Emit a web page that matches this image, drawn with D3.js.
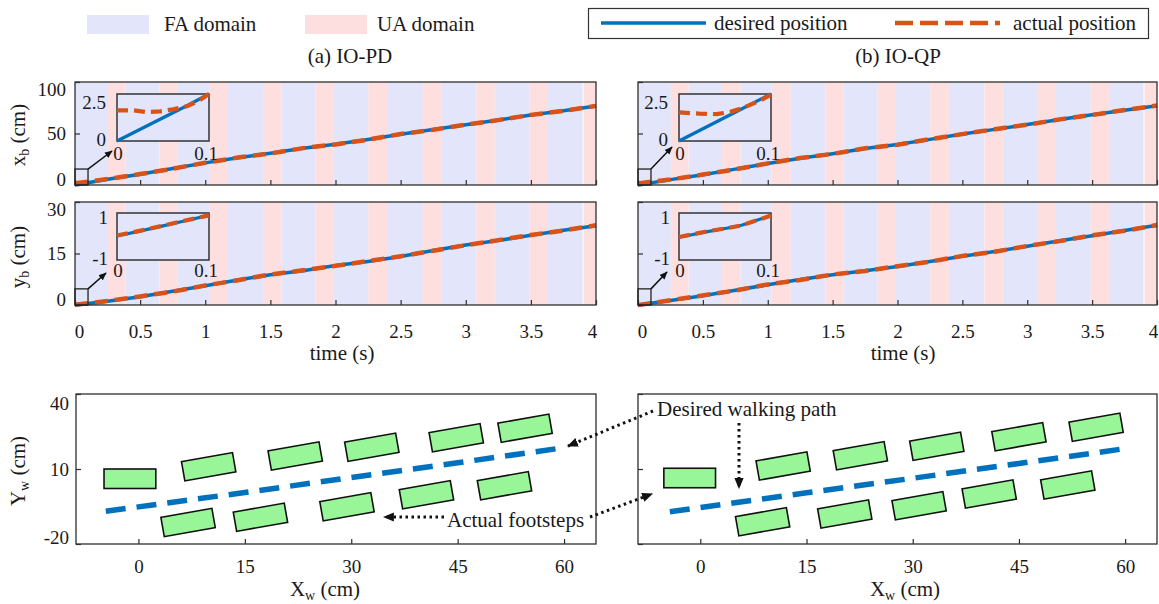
<!DOCTYPE html>
<html>
<head>
<meta charset="utf-8">
<script src="https://cdn.jsdelivr.net/npm/d3@7/dist/d3.min.js"></script>
<style>
html,body{margin:0;padding:0;background:#fff;}
svg{display:block;}
</style>
</head>
<body>
<svg id="chart" width="1159" height="604"></svg>
<script>
// ---------------- data ----------------
const timeTicks = [0, 0.5, 1, 1.5, 2, 2.5, 3, 3.5, 4];
const timeTickLabels = ["0", "0.5", "1", "1.5", "2", "2.5", "3", "3.5", "4"];
const xbTicks = [0, 50, 100];
const xbTickLabels = ["0", "50", "100"];
const ybTicks = [0, 15, 30];
const ybTickLabels = ["0", "15", "30"];

const faDomains = [[0, 0.253], [0.389, 0.648], [0.789, 1.03], [1.175, 1.444], [1.585, 1.848],
  [1.988, 2.252], [2.396, 2.67], [2.812, 3.082], [3.222, 3.488], [3.631, 3.896]];
const uaDomains = [[0.253, 0.389], [0.648, 0.789], [1.03, 1.175], [1.444, 1.585], [1.848, 1.988],
  [2.252, 2.396], [2.67, 2.812], [3.082, 3.222], [3.488, 3.631], [3.904, 4]];

const timeSamples = [0, 0.25, 0.5, 0.75, 1, 1.25, 1.5, 1.75, 2, 2.25, 2.5, 2.75, 3, 3.25, 3.5, 3.75, 4];
const xbDesiredPD = [0, 5.6, 10.5, 16.0, 21.5, 26.4, 30.8, 35.6, 39.6, 44.2, 49.3, 53.8, 58.4, 63.2, 67.9, 72.1, 76.7];
const xbActualPD  = [1.6, 5.8, 10.6, 15.8, 21.6, 26.6, 30.6, 35.8, 39.4, 44.0, 49.5, 53.6, 58.6, 63.0, 68.1, 72.0, 76.8];
const xbDesiredQP = [0, 5.2, 9.9, 15.4, 20.9, 26.0, 30.4, 35.4, 39.3, 44.3, 49.6, 54.0, 58.7, 63.5, 68.2, 72.6, 77.0];
const xbActualQP  = [1.5, 5.4, 10.1, 15.2, 21.0, 26.2, 30.2, 35.6, 39.1, 44.5, 49.4, 54.2, 58.5, 63.7, 68.0, 72.8, 77.1];
const ybDesiredPD = [0, 1.1, 2.4, 4.0, 5.6, 7.3, 8.8, 10.0, 11.5, 12.7, 14.1, 15.9, 17.5, 18.8, 20.3, 21.8, 23.1];
const ybActualPD  = [0.05, 1.2, 2.5, 3.9, 5.7, 7.2, 8.9, 10.1, 11.4, 12.8, 14.2, 15.8, 17.4, 18.9, 20.4, 21.7, 23.2];
const ybDesiredQP = [0, 1.3, 2.7, 4.3, 5.9, 7.4, 8.8, 10.0, 11.2, 12.7, 14.2, 15.6, 17.1, 18.7, 20.2, 21.7, 23.2];
const ybActualQP  = [-0.03, 1.4, 2.8, 4.2, 6.0, 7.3, 8.9, 9.9, 11.3, 12.6, 14.3, 15.5, 17.2, 18.6, 20.3, 21.6, 23.3];

// insets (zoom of first 0.1 s)
const insetTicksT = [0, 0.1];
const insetTickLabelsT = ["0", "0.1"];
const xbInsetTicks = [0, 2.5];
const xbInsetTickLabels = ["0", "2.5"];
const ybInsetTicks = [-1, 1];
const ybInsetTickLabels = ["-1", "1"];
const xbInsetDesT = [0, 0.077, 0.1];
const xbInsetDesPD = [0, 1.9, 2.5];
const xbInsetDesQP = [0, 1.93, 2.5];
const xbInsetActT_PD = [0, 0.018, 0.032, 0.047, 0.061, 0.076, 0.087, 0.1];
const xbInsetActPD = [1.63, 1.63, 1.54, 1.58, 1.68, 1.85, 2.08, 2.5];
const xbInsetActT_QP = [0, 0.022, 0.041, 0.056, 0.071, 0.086, 0.1];
const xbInsetActQP = [1.52, 1.46, 1.43, 1.55, 1.79, 2.1, 2.46];
const ybInsetT_PD = [0, 0.027, 0.05, 0.073, 0.1];
const ybInsetDesPD = [0.02, 0.25, 0.45, 0.66, 0.9];
const ybInsetActPD = [0.04, 0.26, 0.46, 0.67, 0.9];
const ybInsetT_QP = [0, 0.031, 0.053, 0.068, 0.1];
const ybInsetDesQP = [-0.03, 0.21, 0.36, 0.48, 0.89];
const ybInsetActQP = [-0.02, 0.22, 0.36, 0.47, 0.89];

// footstep panels
const XwTicks = [0, 15, 30, 45, 60];
const XwTickLabels = ["0", "15", "30", "45", "60"];
const YwTicks = [-20, 10, 40];
const YwTickLabels = ["-20", "10", "40"];
const footX_PD = [-1.2, 9.9, 22.1, 32.9, 44.8, 54.5, 7.0, 17.2, 29.4, 40.6, 51.6];
const footY_PD = [6.1, 10.9, 15.2, 18.7, 22.5, 26.3, -11.4, -9.3, -5.1, -0.3, 3.3];
const footHeading_PD = [0, 10, 10, 10, 10, 10, 10, 10, 10, 10, 10];
const footX_QP = [-1.5, 11.7, 22.6, 33.4, 45.0, 55.9, 8.8, 20.4, 30.9, 40.8, 51.9];
const footY_QP = [6.4, 11.2, 15.3, 19.1, 22.9, 26.7, -11.1, -8.0, -4.7, 0.0, 3.6];
const footHeading_QP = [0, 10, 10, 10, 10, 10, 10, 10, 10, 10, 10];
const pathX_PD = [-4.6, 15, 30, 45, 59.4];
const pathY_PD = [-6.9, 0.6, 6.6, 12.5, 18.3];
const pathX_QP = [-4.3, 15, 30, 45, 59.6];
const pathY_QP = [-7.1, 0.5, 6.3, 12.2, 18.0];

// ---------------- style ----------------
const FA_COLOR = "#e3e6fa", UA_COLOR = "#fddfe0", BLUE = "#0072bd", ORANGE = "#d95319";
const AXC = "#2e2e2e", TXT = "#1a1a1a", FOOT_FILL = "#98f598";
const FONT = "'Liberation Serif', 'Times New Roman', Times, serif";
const FOOT_LEN = 7.3, FOOT_WID = 7.8; // cm

const svg = d3.select("#chart");
svg.append("rect").attr("width", 1159).attr("height", 604).attr("fill", "#fff");
const defs = svg.append("defs");
function addMarker(id, size) {
  defs.append("marker").attr("id", id).attr("viewBox", "0 0 10 10")
    .attr("refX", 9).attr("refY", 5).attr("markerWidth", size).attr("markerHeight", size)
    .attr("markerUnits", "userSpaceOnUse").attr("orient", "auto")
    .append("path").attr("d", "M0,0.8 L10,5 L0,9.2 Z").attr("fill", "#111");
}
addMarker("headSmall", 8);
addMarker("headBig", 11);

function styleAxis(ga) {
  ga.select(".domain").remove();
  ga.attr("font-family", FONT).attr("font-size", 19);
  ga.selectAll(".tick line").attr("stroke", AXC).attr("stroke-width", 1.2);
  ga.selectAll(".tick text").attr("fill", TXT);
}

function label(text, sub, rest, x, y, rotate) {
  const t = svg.append("text").attr("font-family", FONT).attr("font-size", 21).attr("fill", TXT)
    .attr("text-anchor", "middle")
    .attr("transform", rotate ? `translate(${x},${y}) rotate(-90)` : `translate(${x},${y})`);
  t.append("tspan").text(text);
  if (sub) t.append("tspan").attr("font-size", 14).attr("dy", 4).text(sub);
  if (rest) t.append("tspan").attr("dy", sub ? -4 : 0).text(rest);
  return t;
}

function drawTimePanel(cfg) {
  const g = svg.append("g");
  const x = d3.scaleLinear().domain([0, 4]).range([cfg.left, cfg.right]);
  const y = d3.scaleLinear().domain(cfg.yDomain).range([cfg.bottom, cfg.top]);
  const h = cfg.bottom - cfg.top;
  g.append("g").selectAll("rect").data(faDomains).join("rect")
    .attr("x", d => x(d[0])).attr("width", d => x(d[1]) - x(d[0]))
    .attr("y", cfg.top).attr("height", h).attr("fill", FA_COLOR);
  g.append("g").selectAll("rect").data(uaDomains).join("rect")
    .attr("x", d => x(d[0])).attr("width", d => x(d[1]) - x(d[0]))
    .attr("y", cfg.top).attr("height", h).attr("fill", UA_COLOR);
  const line = d3.line().x(d => x(d[0])).y(d => y(d[1]));
  g.append("path").attr("d", line(d3.zip(timeSamples, cfg.des)))
    .attr("fill", "none").attr("stroke", BLUE).attr("stroke-width", 3.5);
  g.append("path").attr("d", line(d3.zip(timeSamples, cfg.act)))
    .attr("fill", "none").attr("stroke", ORANGE).attr("stroke-width", 4.5).attr("stroke-dasharray", "13,7");

  const bAxis = d3.axisBottom(x).tickValues(timeTicks).tickSizeInner(-5).tickSizeOuter(0).tickPadding(20)
    .tickFormat((d, i) => cfg.showX ? timeTickLabels[i] : "");
  const gb = g.append("g").attr("transform", `translate(0,${cfg.bottom})`).call(bAxis);
  styleAxis(gb);
  gb.selectAll(".tick text").attr("dx", d => d === timeTicks[0] ? 4 : (d === timeTicks[timeTicks.length - 1] ? -4 : 0));

  const lAxis = d3.axisLeft(y).tickValues(cfg.yTicks).tickSizeInner(-5).tickSizeOuter(0).tickPadding(9)
    .tickFormat((d, i) => cfg.showY ? cfg.yLabels[i] : "");
  const gl = g.append("g").attr("transform", `translate(${cfg.left},0)`).call(lAxis);
  styleAxis(gl);
  const yMin = cfg.yTicks[0], yMax = cfg.yTicks[cfg.yTicks.length - 1];
  gl.selectAll(".tick text").attr("y", d => d === yMax ? 7 : (d === yMin ? -6 : 0));

  g.append("rect").attr("x", cfg.left).attr("y", cfg.top).attr("width", cfg.right - cfg.left).attr("height", h)
    .attr("fill", "none").attr("stroke", AXC).attr("stroke-width", 1.3);

  // zoom marker + inset
  const ins = cfg.inset;
  g.append("rect").attr("x", x(0)).attr("y", y(ins.marker[1]))
    .attr("width", x(0.1) - x(0)).attr("height", y(ins.marker[0]) - y(ins.marker[1]))
    .attr("fill", "none").attr("stroke", "#222").attr("stroke-width", 1.3);
  const ix = d3.scaleLinear().domain([0, 0.1]).range([ins.x0, ins.x1]);
  const iy = d3.scaleLinear().domain(ins.yDomain).range([ins.y1, ins.y0]);
  g.append("line").attr("x1", x(0.1)).attr("y1", y(ins.marker[1]))
    .attr("x2", ins.x0 + ins.tip[0]).attr("y2", ins.y1 + ins.tip[1])
    .attr("stroke", "#111").attr("stroke-width", 1.5).attr("marker-end", "url(#headSmall)");
  g.append("rect").attr("x", ins.x0).attr("y", ins.y0).attr("width", ins.x1 - ins.x0).attr("height", ins.y1 - ins.y0)
    .attr("fill", FA_COLOR).attr("stroke", "#333").attr("stroke-width", 1.5);
  const iline = d3.line().x(d => ix(d[0])).y(d => iy(d[1]));
  g.append("path").attr("d", iline(d3.zip(ins.desT, ins.des))).attr("fill", "none")
    .attr("stroke", BLUE).attr("stroke-width", 3.2);
  g.append("path").attr("d", iline(d3.zip(ins.actT, ins.act))).attr("fill", "none")
    .attr("stroke", ORANGE).attr("stroke-width", 4.2).attr("stroke-dasharray", "11,6");
  const tg = g.append("g").attr("font-family", FONT).attr("font-size", 19).attr("fill", TXT);
  tg.selectAll("text.iy").data(ins.yTicks).join("text").attr("class", "iy")
    .attr("text-anchor", "end").attr("x", ins.x0 - ins.yLabelGap)
    .attr("y", (d, i) => iy(d) + ins.yLabelShift[i]).attr("dy", "0.35em")
    .text((d, i) => ins.yLabels[i]);
  tg.selectAll("text.ix").data(insetTicksT).join("text").attr("class", "ix")
    .attr("text-anchor", "middle").attr("x", (d, i) => ix(d) + [1, -3][i])
    .attr("y", ins.y1 + ins.xLabelGap).attr("dy", "0.35em")
    .text((d, i) => insetTickLabelsT[i]);
  return { x, y };
}

function drawFootPanel(cfg) {
  const g = svg.append("g");
  const x = d3.scaleLinear().domain([-8.8, 64.5]).range([cfg.left, cfg.right]);
  const y = d3.scaleLinear().domain([-20, 40]).range([cfg.bottom, cfg.top]);
  const bAxis = d3.axisBottom(x).tickValues(XwTicks).tickSizeInner(-5).tickSizeOuter(0).tickPadding(16)
    .tickFormat((d, i) => XwTickLabels[i]);
  const gb = g.append("g").attr("transform", `translate(0,${cfg.bottom})`).call(bAxis);
  styleAxis(gb);
  const lAxis = d3.axisLeft(y).tickValues(YwTicks).tickSizeInner(-5).tickSizeOuter(0).tickPadding(7)
    .tickFormat((d, i) => cfg.showY ? YwTickLabels[i] : "");
  const gl = g.append("g").attr("transform", `translate(${cfg.left},0)`).call(lAxis);
  styleAxis(gl);
  gl.selectAll(".tick text").attr("y", d => d === 40 ? 9 : (d === -20 ? -7 : 0));

  const line = d3.line().x(d => x(d[0])).y(d => y(d[1]));
  g.append("path").attr("d", line(d3.zip(cfg.pathX, cfg.pathY))).attr("fill", "none")
    .attr("stroke", BLUE).attr("stroke-width", 5.5).attr("stroke-dasharray", "20,11");
  const w = x(FOOT_LEN) - x(0), hh = y(0) - y(FOOT_WID);
  const feet = d3.range(cfg.footX.length).map(i => [cfg.footX[i], cfg.footY[i], cfg.heading[i]]);
  g.selectAll("rect.foot").data(feet).join("rect").attr("class", "foot")
    .attr("x", -w / 2).attr("y", -hh / 2).attr("width", w).attr("height", hh)
    .attr("transform", d => `translate(${x(d[0])},${y(d[1])}) rotate(${-d[2]})`)
    .attr("fill", FOOT_FILL).attr("stroke", "#111").attr("stroke-width", 1.6);
  g.append("rect").attr("x", cfg.left).attr("y", cfg.top).attr("width", cfg.right - cfg.left)
    .attr("height", cfg.bottom - cfg.top).attr("fill", "none").attr("stroke", AXC).attr("stroke-width", 1.3);
  return { x, y };
}

// ---------------- legend & titles ----------------
svg.append("rect").attr("x", 87).attr("y", 15).attr("width", 62).attr("height", 19).attr("fill", FA_COLOR);
svg.append("rect").attr("x", 305).attr("y", 15).attr("width", 62).attr("height", 19).attr("fill", UA_COLOR);
svg.append("rect").attr("x", 588.5).attr("y", 8.5).attr("width", 560).attr("height", 30)
  .attr("fill", "#fff").attr("stroke", "#333").attr("stroke-width", 1.2);
svg.append("line").attr("x1", 601).attr("x2", 706).attr("y1", 23).attr("y2", 23)
  .attr("stroke", BLUE).attr("stroke-width", 3.5);
svg.append("line").attr("x1", 895).attr("x2", 1000).attr("y1", 23).attr("y2", 23)
  .attr("stroke", ORANGE).attr("stroke-width", 4.5).attr("stroke-dasharray", "18,7");
const legTxt = svg.append("g").attr("font-family", FONT).attr("font-size", 21).attr("fill", TXT);
legTxt.append("text").attr("x", 164).attr("y", 31).text("FA domain");
legTxt.append("text").attr("x", 377).attr("y", 31).text("UA domain");
legTxt.append("text").attr("x", 714).attr("y", 30).text("desired position");
legTxt.append("text").attr("x", 1013).attr("y", 30).text("actual position");
legTxt.append("text").attr("x", 350).attr("y", 63).attr("text-anchor", "middle").text("(a) IO-PD");
legTxt.append("text").attr("x", 898).attr("y", 63).attr("text-anchor", "middle").text("(b) IO-QP");

// ---------------- time panels ----------------
drawTimePanel({ left: 75, right: 596, top: 82, bottom: 185, yDomain: [0, 100], yTicks: xbTicks, yLabels: xbTickLabels,
  showY: true, showX: false, des: xbDesiredPD, act: xbActualPD,
  inset: { x0: 117, x1: 209, y0: 94, y1: 141, yDomain: [0, 2.5], marker: [0, 15.5], tip: [-5, 10],
    desT: xbInsetDesT, des: xbInsetDesPD, actT: xbInsetActT_PD, act: xbInsetActPD,
    yTicks: xbInsetTicks, yLabels: xbInsetTickLabels, yLabelShift: [-2, 8], yLabelGap: 11, xLabelGap: 12 } });
drawTimePanel({ left: 75, right: 596, top: 202, bottom: 305, yDomain: [0, 30], yTicks: ybTicks, yLabels: ybTickLabels,
  showY: true, showX: true, des: ybDesiredPD, act: ybActualPD,
  inset: { x0: 117, x1: 209, y0: 213, y1: 260, yDomain: [-1, 1], marker: [0, 4.7], tip: [-11, 13],
    desT: ybInsetT_PD, des: ybInsetDesPD, actT: ybInsetT_PD, act: ybInsetActPD,
    yTicks: ybInsetTicks, yLabels: ybInsetTickLabels, yLabelShift: [-2, 4], yLabelGap: 9, xLabelGap: 10 } });
drawTimePanel({ left: 638, right: 1157, top: 82, bottom: 185, yDomain: [0, 100], yTicks: xbTicks, yLabels: xbTickLabels,
  showY: false, showX: false, des: xbDesiredQP, act: xbActualQP,
  inset: { x0: 679, x1: 771, y0: 94, y1: 141, yDomain: [0, 2.5], marker: [0, 15.5], tip: [-7, 6],
    desT: xbInsetDesT, des: xbInsetDesQP, actT: xbInsetActT_QP, act: xbInsetActQP,
    yTicks: xbInsetTicks, yLabels: xbInsetTickLabels, yLabelShift: [-2, 8], yLabelGap: 11, xLabelGap: 12 } });
drawTimePanel({ left: 638, right: 1157, top: 202, bottom: 305, yDomain: [0, 30], yTicks: ybTicks, yLabels: ybTickLabels,
  showY: false, showX: true, des: ybDesiredQP, act: ybActualQP,
  inset: { x0: 679, x1: 771, y0: 213, y1: 260, yDomain: [-1, 1], marker: [0, 4.7], tip: [-12, 12],
    desT: ybInsetT_QP, des: ybInsetDesQP, actT: ybInsetT_QP, act: ybInsetActQP,
    yTicks: ybInsetTicks, yLabels: ybInsetTickLabels, yLabelShift: [-2, 4], yLabelGap: 9, xLabelGap: 10 } });

label("x", "b", " (cm)", 25, 135, true);
label("y", "b", " (cm)", 25, 257, true);
label("time (s)", null, null, 342, 360, false);
label("time (s)", null, null, 903, 360, false);

// ---------------- footstep panels ----------------
drawFootPanel({ left: 76, right: 596, top: 394, bottom: 544, showY: true,
  footX: footX_PD, footY: footY_PD, heading: footHeading_PD, pathX: pathX_PD, pathY: pathY_PD });
drawFootPanel({ left: 638, right: 1157, top: 394, bottom: 544, showY: false,
  footX: footX_QP, footY: footY_QP, heading: footHeading_QP, pathX: pathX_QP, pathY: pathY_QP });
label("Y", "w", " (cm)", 25, 471, true);
label("X", "w", " (cm)", 325, 596, false);
label("X", "w", " (cm)", 905, 596, false);

// ---------------- annotations ----------------
const ann = svg.append("g").attr("font-family", FONT).attr("font-size", 21).attr("fill", TXT);
ann.append("text").attr("x", 657).attr("y", 416).text("Desired walking path");
ann.append("text").attr("x", 447).attr("y", 527).text("Actual footsteps");
const dotted = [[[653, 411], [568, 446]], [[739, 423], [739, 488]], [[444, 517], [384, 517]], [[590, 517], [652, 494]]];
svg.append("g").selectAll("line").data(dotted).join("line")
  .attr("x1", d => d[0][0]).attr("y1", d => d[0][1]).attr("x2", d => d[1][0]).attr("y2", d => d[1][1])
  .attr("stroke", "#111").attr("stroke-width", 3).attr("stroke-dasharray", "2.5,3.5")
  .attr("marker-end", "url(#headBig)");
</script>
</body>
</html>
